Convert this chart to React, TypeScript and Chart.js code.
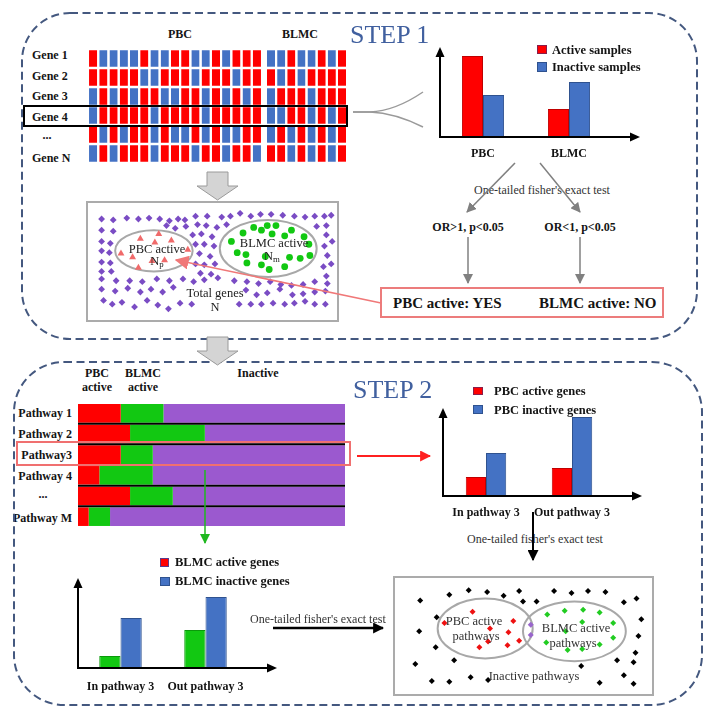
import React, { useEffect, useRef } from 'react';
import { Chart, registerables } from 'chart.js';

Chart.register(...registerables);

const SERIF = "'Liberation Serif', 'DejaVu Serif', 'Times New Roman', serif";
const RED = '#ff0000';
const RED_EDGE = '#c00000';
const BLUE = '#4472c4';
const BLUE_EDGE = '#2f528f';
const GREEN = '#12c812';
const PURPLE_BAR = '#9b59cf';
const PURPLE_DOT = '#7a4cc4';
const INK = '#141414';

// ---------------- STEP 1 data ----------------
const GENE_LABELS = ['Gene 1', 'Gene 2', 'Gene 3', 'Gene 4', '...', 'Gene N'];
// R = active sample, B = inactive sample
const PBC_SAMPLE_STATES = [
  'RBBBBRBBRRBBRBRRR',
  'RRRRRBBRRRBRRRBRR',
  'BRBRBRRBBRRBRBRBR',
  'BRRRRRBRRRRBRRRRR',
  'RBRBRRBRBBRBRBBRR',
  'BRBRRRBRRRBRRBRRB',
];
const BLMC_SAMPLE_STATES = [
  'BBRBBRBR',
  'RBRBRRRR',
  'BRRRBRRR',
  'BBRRBRBR',
  'BRBRBRBR',
  'RRBRBRBR',
];

const STEP1_GROUPS = ['PBC', 'BLMC'];
const ACTIVE_SAMPLES = [81, 28];
const INACTIVE_SAMPLES = [42, 55];

const TOTAL_GENE_POINTS: [number, number][] = [
  [13, 16], [25, 17], [39, 15], [51, 16], [62, 15], [73, 16], [83, 18], [92, 16], [99, 17], [110, 13], [122, 13],
  [137, 14], [146, 13], [156, 10], [167, 13], [177, 11], [188, 11], [200, 12], [212, 13], [223, 14], [233, 13],
  [243, 13], [250, 12],
  [13, 28], [25, 29], [80, 23], [89, 26], [100, 24], [112, 22], [121, 23], [132, 25], [142, 22], [235, 24], [245, 23],
  [13, 40], [22, 42], [13, 50], [21, 52], [13, 62], [22, 63], [13, 72], [23, 72],
  [107, 33], [116, 32], [127, 35], [110, 43], [119, 43], [129, 45], [114, 53], [125, 56], [110, 64], [119, 65],
  [130, 64], [115, 74], [126, 75],
  [245, 33], [243, 45], [251, 40], [246, 55], [242, 67], [250, 64], [245, 77],
  [13, 80], [28, 82], [42, 82], [55, 83], [70, 80], [83, 82], [97, 80], [108, 83], [119, 81], [133, 79], [150, 82],
  [163, 83], [175, 85], [187, 83], [198, 86], [209, 87], [221, 86], [233, 83], [246, 85],
  [13, 91], [27, 93], [40, 90], [53, 94], [64, 91], [76, 94], [87, 89], [162, 92], [173, 97], [184, 95], [197, 91],
  [210, 97], [221, 96], [233, 94], [244, 93],
  [15, 103], [24, 107], [34, 105], [47, 110], [60, 103], [71, 108], [82, 112], [94, 106], [106, 107], [155, 107],
  [167, 107], [178, 107], [190, 106], [202, 107], [212, 106], [223, 104], [233, 107], [244, 107],
];
const PBC_ACTIVE_GENE_POINTS: [number, number][] = [
  [72, 32], [53, 37], [68, 41], [85, 39], [33, 53], [45, 57], [102, 49], [65, 61], [78, 60], [51, 68],
];
const BLMC_ACTIVE_GENE_POINTS: [number, number][] = [
  [170, 25], [178, 28], [184, 23], [193, 23], [159, 31], [189, 32], [209, 28], [147, 40], [202, 34], [222, 35],
  [227, 43], [153, 52], [162, 54], [182, 56], [207, 57], [218, 58], [228, 55], [163, 63], [178, 65], [186, 70],
  [202, 67],
];
const GENE_SETS = [
  { cx: 67, cy: 50, rx: 40, ry: 22 },
  { cx: 185, cy: 47.5, rx: 50, ry: 30.5 },
];

// ---------------- STEP 2 data ----------------
const PATHWAY_LABELS = ['Pathway 1', 'Pathway 2', 'Pathway3', 'Pathway 4', '...', 'Pathway M'];
const PATHWAY_PBC_ACTIVE = [16, 19.5, 16, 8, 19.5, 4];
const PATHWAY_BLMC_ACTIVE = [16, 28, 12, 20, 16, 8];
const PATHWAY_INACTIVE = [68, 52.5, 72, 72, 64.5, 88];

const PATHWAY3_GROUPS = ['In pathway 3', 'Out pathway 3'];
const PBC_ACTIVE_GENES = [19, 28];
const PBC_INACTIVE_GENES = [43, 79];
const BLMC_ACTIVE_GENES = [12, 38];
const BLMC_INACTIVE_GENES = [50, 71];

const INACTIVE_PATHWAY_POINTS: [number, number][] = [
  [27, 24], [57, 18], [77, 13], [96, 15], [113, 19], [129, 14], [133, 25], [147, 25], [165, 14], [183, 16],
  [200, 14], [218, 15], [237, 26], [250, 22], [44, 42], [26, 57], [255, 44], [252, 62], [43, 74], [249, 80],
  [22, 92], [62, 88], [230, 88], [247, 90], [193, 94], [39, 110], [57, 111], [79, 106], [97, 109], [212, 112],
  [237, 104], [247, 113],
];
const PBC_PATHWAY_POINTS: [number, number][] = [
  [81, 36], [52, 48], [123, 46], [99, 54], [118, 58], [97, 68], [88, 74], [117, 72], [129, 67],
];
const SHARED_PATHWAY_POINTS: [number, number][] = [[141, 50], [141, 61]];
const BLMC_PATHWAY_POINTS: [number, number][] = [
  [158, 39], [176, 35], [195, 34], [212, 37], [194, 47], [226, 48], [177, 57], [226, 64], [157, 69], [179, 77],
  [194, 76], [212, 71],
];
const PATHWAY_SETS = [
  { cx: 94, cy: 54, rx: 49, ry: 32 },
  { cx: 186, cy: 57, rx: 53, ry: 32 },
];

// ---------------- plugins ----------------
const arrowAxesPlugin = {
  id: 'arrowAxes',
  afterDatasetsDraw(chart: any, _a: any, opts: any) {
    const { ctx, chartArea: a } = chart;
    const xEnd = a.right + (opts.extendRight || 0);
    ctx.save();
    ctx.strokeStyle = '#000';
    ctx.fillStyle = '#000';
    ctx.lineWidth = 2;
    ctx.beginPath();
    ctx.moveTo(a.left, a.bottom + 1);
    ctx.lineTo(a.left, a.top + 8);
    ctx.stroke();
    ctx.beginPath();
    ctx.moveTo(a.left, a.top);
    ctx.lineTo(a.left - 4.5, a.top + 10);
    ctx.lineTo(a.left + 4.5, a.top + 10);
    ctx.closePath();
    ctx.fill();
    ctx.beginPath();
    ctx.moveTo(a.left - 1, a.bottom);
    ctx.lineTo(xEnd - 8, a.bottom);
    ctx.stroke();
    ctx.beginPath();
    ctx.moveTo(xEnd, a.bottom);
    ctx.lineTo(xEnd - 10, a.bottom - 4.5);
    ctx.lineTo(xEnd - 10, a.bottom + 4.5);
    ctx.closePath();
    ctx.fill();
    ctx.restore();
  },
};

const categoryLabelsPlugin = {
  id: 'categoryLabels',
  afterDraw(chart: any, _a: any, opts: any) {
    const { ctx, chartArea } = chart;
    const xs = chart.scales.x;
    ctx.save();
    ctx.font = `bold 12px ${SERIF}`;
    ctx.fillStyle = INK;
    ctx.textAlign = 'center';
    ctx.textBaseline = 'middle';
    (chart.data.labels as string[]).forEach((lab, i) => {
      ctx.fillText(lab, xs.getPixelForValue(i), chartArea.bottom + (opts.dy || 16));
    });
    ctx.restore();
  },
};

const rowSeparatorPlugin = {
  id: 'rowSeparators',
  afterDatasetsDraw(chart: any) {
    const { ctx, chartArea: a } = chart;
    const ys = chart.scales.y;
    const n = chart.data.labels.length;
    ctx.save();
    ctx.strokeStyle = '#000';
    ctx.lineWidth = 2;
    for (let i = 0; i < n - 1; i++) {
      const py = (ys.getPixelForValue(i) + ys.getPixelForValue(i + 1)) / 2;
      ctx.beginPath();
      ctx.moveTo(a.left, py);
      ctx.lineTo(a.right, py);
      ctx.stroke();
    }
    ctx.restore();
  },
};

const ellipsePlugin = {
  id: 'ellipses',
  beforeDatasetsDraw(chart: any, _a: any, opts: any) {
    const { ctx } = chart;
    const xs = chart.scales.x;
    const ys = chart.scales.y;
    ctx.save();
    ctx.strokeStyle = '#a8a8a8';
    ctx.lineWidth = 2;
    (opts.items || []).forEach((e: any) => {
      const cx = xs.getPixelForValue(e.cx);
      const cy = ys.getPixelForValue(e.cy);
      const rx = Math.abs(xs.getPixelForValue(e.cx + e.rx) - cx);
      const ry = Math.abs(ys.getPixelForValue(e.cy + e.ry) - cy);
      ctx.beginPath();
      ctx.ellipse(cx, cy, rx, ry, 0, 0, Math.PI * 2);
      ctx.stroke();
    });
    ctx.restore();
  },
};

// ---------------- config builders ----------------
type Area = { x: number; y: number; w: number; h: number; padding: any };
function placeArea(L: number, T: number, R: number, B: number, m = { l: 0, t: 0, r: 0, b: 0 }): Area {
  return {
    x: L - m.l,
    y: T - m.t,
    w: R - L + m.l + m.r,
    h: B - T + m.t + m.b,
    padding: { left: m.l, top: m.t, right: m.r, bottom: m.b },
  };
}

const baseOptions = (padding: any) => ({
  responsive: false,
  maintainAspectRatio: false,
  animation: false,
  events: [],
  layout: { padding },
});

function groupedBarConfig(
  area: Area,
  labels: string[],
  sets: { label: string; data: number[]; color: string; edge: string }[],
  yMax: number,
  extendRight: number,
  labelDy: number,
  catPct: number,
) {
  return {
    type: 'bar',
    data: {
      labels,
      datasets: sets.map((s) => ({
        label: s.label,
        data: s.data,
        backgroundColor: s.color,
        borderColor: s.edge,
        borderWidth: 1,
        categoryPercentage: catPct,
        barPercentage: 1,
      })),
    },
    options: {
      ...baseOptions(area.padding),
      scales: { x: { display: false }, y: { display: false, min: 0, max: yMax } },
      plugins: {
        legend: { display: false },
        tooltip: { enabled: false },
        arrowAxes: { extendRight },
        categoryLabels: { dy: labelDy },
      },
    },
    plugins: [arrowAxesPlugin, categoryLabelsPlugin],
  };
}

function heatmapConfig(area: Area, states: string[]) {
  const n = states[0].length;
  return {
    type: 'bar',
    data: {
      labels: states[0].split('').map((_, i) => String(i + 1)),
      datasets: states.map((row, r) => ({
        label: GENE_LABELS[r],
        data: row.split('').map(() => 1),
        backgroundColor: row.split('').map((c) => (c === 'R' ? RED : BLUE)),
        borderColor: '#ffffff',
        borderWidth: { top: 1.3, bottom: 1.3, left: 0, right: 0 },
        borderSkipped: false,
        categoryPercentage: 1,
        barPercentage: 0.8,
      })),
    },
    options: {
      ...baseOptions(area.padding),
      scales: {
        x: { display: false, stacked: true },
        y: { display: false, stacked: true, min: 0, max: states.length, reverse: true },
      },
      plugins: { legend: { display: false }, tooltip: { enabled: false } },
    },
  };
}

function scatterConfig(
  area: Area,
  sets: { points: [number, number][]; style: string; r: number; color: string }[],
  ellipses: any[],
) {
  return {
    type: 'scatter',
    data: {
      datasets: sets.map((s) => ({
        data: s.points.map(([x, y]) => ({ x, y })),
        pointStyle: s.style,
        pointRadius: s.r,
        backgroundColor: s.color,
        borderColor: s.color,
        borderWidth: 0,
      })),
    },
    options: {
      ...baseOptions(area.padding),
      scales: {
        x: { display: false, min: 0, max: area.w },
        y: { display: false, min: 0, max: area.h, reverse: true },
      },
      plugins: { legend: { display: false }, tooltip: { enabled: false }, ellipses: { items: ellipses } },
    },
    plugins: [ellipsePlugin],
  };
}

function pathwayConfig(area: Area) {
  const mk = (label: string, data: number[], color: string) => ({
    label,
    data,
    backgroundColor: color,
    borderWidth: 0,
    categoryPercentage: 0.9,
    barPercentage: 1,
  });
  return {
    type: 'bar',
    data: {
      labels: PATHWAY_LABELS,
      datasets: [
        mk('PBC active', PATHWAY_PBC_ACTIVE, RED),
        mk('BLMC active', PATHWAY_BLMC_ACTIVE, GREEN),
        mk('Inactive', PATHWAY_INACTIVE, PURPLE_BAR),
      ],
    },
    options: {
      ...baseOptions(area.padding),
      indexAxis: 'y',
      scales: {
        x: { display: false, stacked: true, min: 0, max: 100 },
        y: { display: false, stacked: true },
      },
      plugins: { legend: { display: false }, tooltip: { enabled: false } },
    },
    plugins: [rowSeparatorPlugin],
  };
}

// ---------------- components ----------------
function ChartCanvas({ area, make }: { area: Area; make: (a: Area) => any }) {
  const ref = useRef<HTMLCanvasElement>(null);
  useEffect(() => {
    const chart = new Chart(ref.current as HTMLCanvasElement, make(area) as any);
    return () => chart.destroy();
  }, []);
  return (
    <canvas
      ref={ref}
      width={area.w}
      height={area.h}
      style={{ position: 'absolute', left: area.x, top: area.y, width: area.w, height: area.h }}
    />
  );
}

function Txt({
  x,
  y,
  children,
  align = 'center',
  size = 12,
  bold = false,
  color = INK,
}: {
  x: number;
  y: number;
  children: any;
  align?: 'left' | 'center' | 'right';
  size?: number;
  bold?: boolean;
  color?: string;
}) {
  const tx = align === 'center' ? '-50%' : align === 'right' ? '-100%' : '0';
  return (
    <div
      style={{
        position: 'absolute',
        left: x,
        top: y,
        transform: `translate(${tx}, -50%)`,
        fontFamily: SERIF,
        fontSize: size,
        fontWeight: bold ? 700 : 400,
        color,
        whiteSpace: 'nowrap',
        lineHeight: 1,
      }}
    >
      {children}
    </div>
  );
}

function Swatch({ x, y, w, h, color, edge }: any) {
  return (
    <div
      style={{
        position: 'absolute',
        left: x,
        top: y,
        width: w,
        height: h,
        background: color,
        border: `1px solid ${edge}`,
        boxSizing: 'border-box',
      }}
    />
  );
}

function Marker({ id, color, size }: { id: string; color: string; size: number }) {
  return (
    <marker
      id={id}
      viewBox="0 0 10 10"
      refX="9"
      refY="5"
      markerWidth={size}
      markerHeight={size}
      markerUnits="userSpaceOnUse"
      orient="auto"
    >
      <path d="M0,0 L10,5 L0,10 z" fill={color} />
    </marker>
  );
}

const STEP1_BAR_AREA = placeArea(440, 47, 612, 137, { l: 15, t: 12, r: 43, b: 33 });
const PBC_HEAT_AREA = placeArea(88, 49, 262, 163);
const BLMC_HEAT_AREA = placeArea(266, 49, 347, 163);
const GENE_SCATTER_AREA = placeArea(85, 200, 341, 325);
const PATHWAY_AREA = placeArea(78, 403, 345, 527);
const PBC_GENES_AREA = placeArea(443, 408, 615, 496, { l: 15, t: 12, r: 43, b: 30 });
const BLMC_GENES_AREA = placeArea(78, 578, 248, 668, { l: 15, t: 12, r: 45, b: 33 });
const PATHWAY_SCATTER_AREA = placeArea(390, 574, 656, 698);

export default function App() {
  const geneRowY = [55, 75.5, 96, 117, 135, 158];
  const pathwayRowY = [413, 434, 455, 476, 494, 518];
  return (
    <div
      style={{
        position: 'absolute',
        left: 0,
        top: 0,
        width: 713,
        height: 717,
        background: '#ffffff',
        overflow: 'hidden',
      }}
    >
      {/* framed boxes */}
      <div style={{ position: 'absolute', left: 86, top: 201, width: 253, height: 121, border: '2px solid #ababab', boxSizing: 'border-box' }} />
      <div style={{ position: 'absolute', left: 393, top: 576, width: 261, height: 120, border: '2px solid #ababab', boxSizing: 'border-box' }} />

      {/* charts */}
      <ChartCanvas area={PBC_HEAT_AREA} make={(a) => heatmapConfig(a, PBC_SAMPLE_STATES)} />
      <ChartCanvas area={BLMC_HEAT_AREA} make={(a) => heatmapConfig(a, BLMC_SAMPLE_STATES)} />
      <ChartCanvas
        area={STEP1_BAR_AREA}
        make={(a) =>
          groupedBarConfig(
            a,
            STEP1_GROUPS,
            [
              { label: 'Active samples', data: ACTIVE_SAMPLES, color: RED, edge: RED_EDGE },
              { label: 'Inactive samples', data: INACTIVE_SAMPLES, color: BLUE, edge: BLUE_EDGE },
            ],
            90,
            28,
            17,
            0.49,
          )
        }
      />
      <ChartCanvas
        area={GENE_SCATTER_AREA}
        make={(a) =>
          scatterConfig(
            a,
            [
              { points: TOTAL_GENE_POINTS, style: 'rectRot', r: 3.4, color: PURPLE_DOT },
              { points: PBC_ACTIVE_GENE_POINTS, style: 'triangle', r: 4, color: '#f06a6a' },
              { points: BLMC_ACTIVE_GENE_POINTS, style: 'circle', r: 3.4, color: GREEN },
            ],
            GENE_SETS,
          )
        }
      />
      <ChartCanvas area={PATHWAY_AREA} make={(a) => pathwayConfig(a)} />
      <ChartCanvas
        area={PBC_GENES_AREA}
        make={(a) =>
          groupedBarConfig(
            a,
            PATHWAY3_GROUPS,
            [
              { label: 'PBC active genes', data: PBC_ACTIVE_GENES, color: RED, edge: RED_EDGE },
              { label: 'PBC inactive genes', data: PBC_INACTIVE_GENES, color: BLUE, edge: BLUE_EDGE },
            ],
            88,
            27,
            17,
            0.47,
          )
        }
      />
      <ChartCanvas
        area={BLMC_GENES_AREA}
        make={(a) =>
          groupedBarConfig(
            a,
            PATHWAY3_GROUPS,
            [
              { label: 'BLMC active genes', data: BLMC_ACTIVE_GENES, color: GREEN, edge: '#0a9a0a' },
              { label: 'BLMC inactive genes', data: BLMC_INACTIVE_GENES, color: BLUE, edge: BLUE_EDGE },
            ],
            90,
            29,
            19,
            0.5,
          )
        }
      />
      <ChartCanvas
        area={PATHWAY_SCATTER_AREA}
        make={(a) =>
          scatterConfig(
            a,
            [
              { points: INACTIVE_PATHWAY_POINTS, style: 'rectRot', r: 3, color: '#000000' },
              { points: PBC_PATHWAY_POINTS, style: 'rectRot', r: 3, color: '#ee1111' },
              { points: SHARED_PATHWAY_POINTS, style: 'rectRot', r: 3, color: '#9966cc' },
              { points: BLMC_PATHWAY_POINTS, style: 'rectRot', r: 3, color: '#22cc22' },
            ],
            PATHWAY_SETS,
          )
        }
      />

      {/* ---------- STEP 1 texts ---------- */}
      <Txt x={180} y={34} bold>PBC</Txt>
      <Txt x={300} y={34} bold>BLMC</Txt>
      {GENE_LABELS.map((g, i) => (
        <Txt key={g} x={g === '...' ? 47 : 32} y={geneRowY[i]} align={g === '...' ? 'center' : 'left'} bold>
          {g}
        </Txt>
      ))}
      <Txt x={350} y={35} size={26} align="left" color="#41609f">STEP 1</Txt>
      <Swatch x={537} y={45} w={10} h={9} color={RED} edge="#8a1d4a" />
      <Swatch x={537} y={62} w={10} h={10} color={BLUE} edge={BLUE_EDGE} />
      <Txt x={552} y={49.5} align="left" bold size={12.5}>Active samples</Txt>
      <Txt x={552} y={67} align="left" bold size={12.5}>Inactive samples</Txt>
      <Txt x={542} y={190} color="#333">One-tailed fisher's exact test</Txt>
      <Txt x={468} y={227} bold>OR&gt;1, p&lt;0.05</Txt>
      <Txt x={580} y={227} bold>OR&lt;1, p&lt;0.05</Txt>
      <Txt x={393} y={303} align="left" bold size={15}>PBC active: YES</Txt>
      <Txt x={539} y={303} align="left" bold size={15}>BLMC active: NO</Txt>
      <Txt x={157} y={249} size={12.5} color="#222">PBC active</Txt>
      <Txt x={157} y={262} size={12.5} color="#222">
        N<sub style={{ fontSize: '0.7em', verticalAlign: '-0.3em' }}>p</sub>
      </Txt>
      <Txt x={274} y={243} size={12.5} color="#222">BLMC active</Txt>
      <Txt x={272} y={257} size={12.5} color="#222">
        N<sub style={{ fontSize: '0.7em', verticalAlign: '-0.3em' }}>m</sub>
      </Txt>
      <Txt x={215} y={293} size={12.5} color="#222">Total genes</Txt>
      <Txt x={215} y={307} size={12.5} color="#222">N</Txt>

      {/* ---------- STEP 2 texts ---------- */}
      <Txt x={97} y={373} bold>PBC</Txt>
      <Txt x={97} y={387} bold>active</Txt>
      <Txt x={143} y={373} bold>BLMC</Txt>
      <Txt x={143} y={387} bold>active</Txt>
      <Txt x={258} y={373} bold>Inactive</Txt>
      {PATHWAY_LABELS.map((p, i) => (
        <Txt key={p} x={p === '...' ? 43 : 72} y={pathwayRowY[i]} align={p === '...' ? 'center' : 'right'} bold>
          {p}
        </Txt>
      ))}
      <Txt x={353} y={390} size={26} align="left" color="#41609f">STEP 2</Txt>
      <Swatch x={473} y={387} w={10} h={8} color={RED} edge="#8a1d4a" />
      <Swatch x={473} y={405} w={10} h={9} color={BLUE} edge={BLUE_EDGE} />
      <Txt x={494} y={391} align="left" bold size={12.5}>PBC active genes</Txt>
      <Txt x={494} y={410} align="left" bold size={12.5}>PBC inactive genes</Txt>
      <Swatch x={160} y={558} w={9} h={9} color={RED} edge="#5a3a8a" />
      <Swatch x={160} y={577} w={10} h={9} color={BLUE} edge={BLUE_EDGE} />
      <Txt x={175} y={562} align="left" bold size={12.5}>BLMC active genes</Txt>
      <Txt x={175} y={581} align="left" bold size={12.5}>BLMC inactive genes</Txt>
      <Txt x={535} y={539} color="#333">One-tailed fisher's exact test</Txt>
      <Txt x={250} y={619} align="left" color="#333">One-tailed fisher's exact test</Txt>
      <Txt x={474} y={621} size={12.5} color="#333">PBC active</Txt>
      <Txt x={476} y={636} size={12.5} color="#333">pathways</Txt>
      <Txt x={576} y={628} size={12.5} color="#333">BLMC active</Txt>
      <Txt x={573} y={643} size={12.5} color="#333">pathways</Txt>
      <Txt x={534} y={676} size={12.5} color="#333">Inactive pathways</Txt>

      {/* ---------- overlay shapes ---------- */}
      <svg width={713} height={717} style={{ position: 'absolute', left: 0, top: 0, pointerEvents: 'none' }}>
        <defs>
          <Marker id="mGray" color="#808080" size={10} />
          <Marker id="mPink" color="#f07878" size={14} />
          <Marker id="mRed" color="#ff2020" size={11} />
          <Marker id="mGreen" color="#1fb81f" size={10} />
          <Marker id="mBlack" color="#000000" size={11} />
        </defs>
        <rect x={22} y={13} width={675} height={326} rx={48} fill="none" stroke="#44587f" strokeWidth={2} strokeDasharray="8 4.5" />
        <rect x={14} y={362} width={688} height={343} rx={50} fill="none" stroke="#44587f" strokeWidth={2} strokeDasharray="8 4.5" />
        <polygon points="207,172 228,172 228,186 238,186 217.5,200 197,186 207,186" fill="#d4d4d4" stroke="#9a9a9a" strokeWidth={1} />
        <polygon points="207,337 228,337 228,351 238,351 217.5,365 197,351 207,351" fill="#d4d4d4" stroke="#9a9a9a" strokeWidth={1} />
        <rect x={24} y={106} width={323} height={20} fill="none" stroke="#000" strokeWidth={2} />
        <path d="M353,112 L370,112 Q395,111 423,92" fill="none" stroke="#9a9a9a" strokeWidth={1.5} />
        <path d="M353,112 L370,112 Q395,113 423,127" fill="none" stroke="#9a9a9a" strokeWidth={1.5} />
        <line x1={515} y1={163} x2={467} y2={212} stroke="#808080" strokeWidth={1.5} markerEnd="url(#mGray)" />
        <line x1={540} y1={163} x2={580} y2={212} stroke="#808080" strokeWidth={1.5} markerEnd="url(#mGray)" />
        <line x1={468} y1={237} x2={468} y2={283} stroke="#808080" strokeWidth={1.5} markerEnd="url(#mGray)" />
        <line x1={580} y1={237} x2={580} y2={283} stroke="#808080" strokeWidth={1.5} markerEnd="url(#mGray)" />
        <rect x={381} y={288} width={282} height={29} fill="none" stroke="#ec7c7c" strokeWidth={2} />
        <line x1={381} y1={303} x2={176} y2={260} stroke="#f07878" strokeWidth={1.5} markerEnd="url(#mPink)" />
        <rect x={17} y={442} width={333} height={23} fill="none" stroke="#f07070" strokeWidth={2} />
        <line x1={357} y1={456} x2={430} y2={456} stroke="#ff2020" strokeWidth={2} markerEnd="url(#mRed)" />
        <line x1={205} y1={470} x2={205} y2={543} stroke="#1fb81f" strokeWidth={1.5} markerEnd="url(#mGreen)" />
        <line x1={533} y1={512} x2={533} y2={560} stroke="#000" strokeWidth={2} markerEnd="url(#mBlack)" />
        <line x1={273} y1={628} x2={383} y2={628} stroke="#000" strokeWidth={2.5} markerEnd="url(#mBlack)" />
      </svg>
    </div>
  );
}
